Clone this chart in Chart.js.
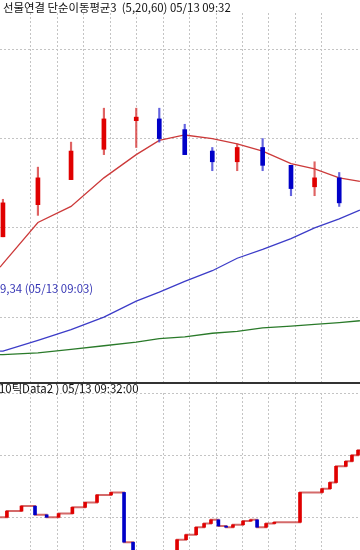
<!DOCTYPE html>
<html>
<head>
<meta charset="utf-8">
<script src="https://cdn.jsdelivr.net/npm/chart.js@4/dist/chart.umd.min.js"></script>
<style>
  body { margin: 0; background: #fff; }
  #wrap { position: relative; width: 360px; height: 550px; overflow: hidden; background: #fff; }
  #top { position: absolute; left: 0; top: 0; width: 360px; height: 382px; }
  #bottom { position: absolute; left: 0; top: 384px; width: 360px; height: 166px; }
  #sep { position: absolute; left: 0; top: 382px; width: 360px; height: 2px; background: #333; }
  .lbl { position: absolute; font-family: "Noto Sans CJK KR", sans-serif; font-size: 11.4px; line-height: 12px; white-space: nowrap; color: #111; }
</style>
</head>
<body>
<div id="wrap">
  <div id="top"><canvas id="priceChart"></canvas></div>
  <div id="sep"></div>
  <div id="bottom"><canvas id="tickChart"></canvas></div>
  <div class="lbl" style="left:3px;top:1px;">선물연결 단순이동평균3&nbsp;&nbsp;(5,20,60) 05/13 09:32</div>
  <div class="lbl" style="left:0px;top:282px;color:#3434b4;">9,34 (05/13 09:03)</div>
  <div class="lbl" style="left:-1px;top:382px;">10틱Data2 ) 05/13 09:32:00</div>
</div>
<script>
// upper panel: candles (x in grid units)
const candleX = [-0.04, 1.28, 2.53, 3.77, 4.99, 5.86, 6.82, 7.86, 8.80, 9.76, 10.83, 11.72, 12.65];
const openP  = [259.95, 260.13, 260.27, 260.44, 260.60, 260.61, 260.55, 260.43, 260.37, 260.45, 260.35, 260.23, 260.28];
const highP  = [260.16, 260.34, 260.48, 260.67, 260.67, 260.67, 260.58, 260.45, 260.47, 260.50, 260.35, 260.37, 260.31];
const lowP   = [259.95, 260.07, 260.27, 260.41, 260.45, 260.48, 260.41, 260.32, 260.32, 260.32, 260.18, 260.18, 260.12];
const closeP = [260.14, 260.28, 260.43, 260.61, 260.62, 260.50, 260.41, 260.37, 260.45, 260.35, 260.22, 260.28, 260.14];

// moving averages 5 / 20 / 60
const maX  = [-0.15, -0.04, 1.28, 2.53, 3.77, 4.99, 5.86, 6.82, 7.86, 8.80, 9.76, 10.83, 11.72, 12.65, 13.43];
const ma5  = [259.78, 259.80, 260.03, 260.12, 260.28, 260.41, 260.49, 260.52, 260.50, 260.47, 260.43, 260.36, 260.33, 260.28, 260.26];
const ma20 = [259.31, 259.31, 259.37, 259.43, 259.50, 259.59, 259.64, 259.70, 259.76, 259.83, 259.88, 259.94, 260.00, 260.05, 260.10];
const ma60 = [259.29, 259.29, 259.30, 259.32, 259.34, 259.36, 259.38, 259.39, 259.41, 259.42, 259.44, 259.45, 259.46, 259.47, 259.48];

// lower panel: 10 tick data (x where price changed, new price)
const tickX = [-0.15, 0.11, 0.66, 1.17, 1.61, 2.06, 2.58, 3.06, 3.51, 4.04, 4.53, 4.87, 6.53, 6.87, 7.25, 7.55, 7.81, 8.09, 8.38, 8.64, 9.02, 9.31, 9.55, 9.89, 10.20, 11.17, 12.00, 12.30, 12.53, 12.90, 13.13, 13.36];
const tickP = [260.00, 260.05, 260.09, 260.02, 260.00, 260.03, 260.08, 260.12, 260.18, 260.20, 259.80, 259.70, 259.82, 259.86, 259.92, 259.95, 259.98, 259.93, 259.92, 259.94, 259.97, 259.98, 259.92, 259.95, 259.96, 260.20, 260.23, 260.28, 260.41, 260.45, 260.50, 260.54];

const RED = '#e00000', BLUE = '#0000c8';
const gridColor = '#c4c4c4';

function keepSteps(step) {
  return scale => {
    scale.ticks = scale.ticks.filter(t => Math.abs(t.value / step - Math.round(t.value / step)) < 1e-6);
  };
}

function axes(yMin, yMax, yStep) {
  return {
    x: {
      type: 'linear', min: -0.151, max: 13.434, offset: false,
      ticks: { display: false, stepSize: 1 },
      grid: { color: gridColor, drawTicks: false, offset: false },
      border: { display: false, dash: [2, 2] },
      afterBuildTicks: keepSteps(1)
    },
    y: {
      min: yMin, max: yMax,
      ticks: { display: false, stepSize: yStep },
      grid: { color: gridColor, drawTicks: false },
      border: { display: false, dash: [2, 2] },
      afterBuildTicks: keepSteps(yStep)
    }
  };
}

const baseOpts = {
  responsive: true,
  maintainAspectRatio: false,
  animation: false,
  plugins: { legend: { display: false }, tooltip: { enabled: false } }
};

const up = candleX.map((x, i) => closeP[i] >= openP[i]);
const maLine = (vals, color) => ({
  type: 'line',
  data: maX.map((x, i) => ({ x: x, y: vals[i] })),
  borderColor: color, borderWidth: 1.3, pointRadius: 0, tension: 0, order: 2
});

new Chart(document.getElementById('priceChart'), {
  type: 'bar',
  data: {
    datasets: [
      {
        data: candleX.map((x, i) => ({ x: x, y: [lowP[i], highP[i]] })),
        backgroundColor: up.map(u => u ? 'rgba(215,60,60,0.8)' : 'rgba(60,60,215,0.8)'),
        barThickness: 1.5, grouped: false, order: 1
      },
      {
        data: candleX.map((x, i) => ({ x: x, y: [openP[i], closeP[i]] })),
        backgroundColor: up.map(u => u ? RED : BLUE),
        barThickness: 4, grouped: false, order: 0
      },
      maLine(ma60, '#2a7a2a'),
      maLine(ma20, '#3c3cc8'),
      maLine(ma5, '#cc3a3a')
    ]
  },
  options: Object.assign({}, baseOpts, {
    layout: { padding: { top: 13 } },
    scales: axes(259.137, 261.203, 0.5)
  })
});

// vertical moves between consecutive ticks
const moves = tickX.slice(1).map((x, i) => ({ x: x, y: [tickP[i], tickP[i + 1]] }));
const lastP = tickP[tickP.length - 1];

new Chart(document.getElementById('tickChart'), {
  type: 'bar',
  data: {
    datasets: [
      {
        data: moves,
        backgroundColor: moves.map(m => m.y[1] >= m.y[0] ? RED : BLUE),
        barThickness: 3, grouped: false, order: 0
      },
      {
        type: 'line',
        data: tickX.map((x, i) => ({ x: x, y: tickP[i] })).concat([{ x: 13.434, y: lastP }]),
        stepped: 'before',
        borderColor: 'rgba(205,80,80,0.85)', borderWidth: 2, pointRadius: 0, order: 1
      }
    ]
  },
  options: Object.assign({}, baseOpts, {
    layout: { padding: { top: 9 } },
    scales: axes(259.737, 261.0, 0.5)
  })
});
</script>
</body>
</html>
